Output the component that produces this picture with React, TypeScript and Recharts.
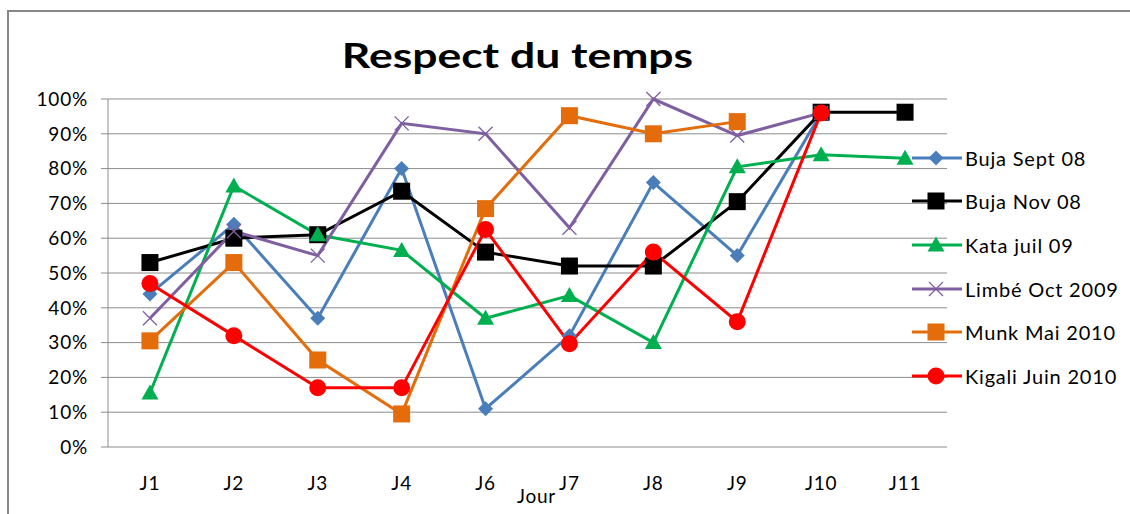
import React from 'react';
import { LineChart, Line, XAxis, YAxis, CartesianGrid, Legend } from 'recharts';

const categories = ['J1', 'J2', 'J3', 'J4', 'J6', 'J7', 'J8', 'J9', 'J10', 'J11'];
const bujaSept08 = [0.44, 0.64, 0.37, 0.8, 0.11, 0.32, 0.76, 0.55, 0.96, null];
const bujaNov08 = [0.53, 0.6, 0.61, 0.735, 0.56, 0.52, 0.52, 0.705, 0.962, 0.962];
const kataJuil09 = [0.155, 0.75, 0.61, 0.565, 0.37, 0.435, 0.3, 0.805, 0.84, 0.83];
const limbeOct2009 = [0.37, 0.62, 0.55, 0.93, 0.9, 0.63, 1.0, 0.895, 0.96, null];
const munkMai2010 = [0.305, 0.53, 0.25, 0.095, 0.685, 0.952, 0.9, 0.935, null, null];
const kigaliJuin2010 = [0.47, 0.32, 0.17, 0.17, 0.625, 0.297, 0.56, 0.36, 0.96, null];
const yTicks = [0, 0.1, 0.2, 0.3, 0.4, 0.5, 0.6, 0.7, 0.8, 0.9, 1.0];
const boundaryTicks = [0, 1, 2, 3, 4, 5, 6, 7, 8, 9, 10];

type Shape = 'diamond' | 'square' | 'triangle' | 'x' | 'circle';
interface Series { key: string; name: string; color: string; shape: Shape; values: (number | null)[] }

const series: Series[] = [
  { key: 's1', name: 'Buja Sept 08', color: '#4A7EBB', shape: 'diamond', values: bujaSept08 },
  { key: 's2', name: 'Buja Nov 08', color: '#000000', shape: 'square', values: bujaNov08 },
  { key: 's3', name: 'Kata juil 09', color: '#00B050', shape: 'triangle', values: kataJuil09 },
  { key: 's4', name: 'Limbé Oct 2009', color: '#7F5FA0', shape: 'x', values: limbeOct2009 },
  { key: 's5', name: 'Munk Mai 2010', color: '#E46C0A', shape: 'square', values: munkMai2010 },
  { key: 's6', name: 'Kigali Juin 2010', color: '#FF0000', shape: 'circle', values: kigaliJuin2010 },
];

const data = categories.map((cat, i) => {
  const row: Record<string, any> = { cat };
  series.forEach((s) => { row[s.key] = s.values[i]; });
  return row;
});

const FONT = 'Lato, "Liberation Sans", sans-serif';
const GRID = '#8c8c8c';

function Marker({ cx, cy, shape, color }: { cx?: number; cy?: number; shape: Shape; color: string }) {
  if (cx == null || cy == null || isNaN(cx) || isNaN(cy)) return <g />;
  switch (shape) {
    case 'diamond':
      return <path d={`M${cx},${cy - 7.5}L${cx + 7.5},${cy}L${cx},${cy + 7.5}L${cx - 7.5},${cy}Z`} fill={color} />;
    case 'square':
      return <rect x={cx - 8.5} y={cy - 8.5} width={17} height={17} fill={color} />;
    case 'triangle':
      return <path d={`M${cx},${cy - 8.5}L${cx + 8.5},${cy + 6.5}L${cx - 8.5},${cy + 6.5}Z`} fill={color} />;
    case 'x':
      return (
        <g stroke={color} strokeWidth={1.3}>
          <line x1={cx - 7} y1={cy - 7} x2={cx + 7} y2={cy + 7} />
          <line x1={cx - 7} y1={cy + 7} x2={cx + 7} y2={cy - 7} />
        </g>
      );
    case 'circle':
    default:
      return <circle cx={cx} cy={cy} r={8.5} fill={color} />;
  }
}

function LegendContent() {
  return (
    <div style={{ fontFamily: FONT, fontSize: 20, letterSpacing: 0.8, color: '#000' }}>
      {series.map((s) => (
        <div key={s.key} style={{ height: 43.6, display: 'flex', alignItems: 'center' }}>
          <svg width={52} height={22} style={{ display: 'block' }}>
            <line x1={0} y1={11} x2={50} y2={11} stroke={s.color} strokeWidth={3} />
            <Marker cx={24} cy={11} shape={s.shape} color={s.color} />
          </svg>
          <span style={{ marginLeft: 1, whiteSpace: 'nowrap' }}>{s.name}</span>
        </div>
      ))}
    </div>
  );
}

const tickStyle = { fontFamily: FONT, fontSize: 19, fill: '#000', letterSpacing: 0.8 };

export default function App() {
  return (
    <div style={{ position: 'absolute', left: 0, top: 0, width: 1130, height: 514, overflow: 'hidden', background: '#fff' }}>
      <div style={{ position: 'absolute', left: 7, top: 10, width: 1200, height: 600, border: '2px solid #878787' }} />
      <div style={{ position: 'absolute', left: 0, width: 1035, top: 32, textAlign: 'center', fontFamily: FONT, fontWeight: 700, fontSize: 35, lineHeight: '44px', color: '#000', transform: 'scaleX(1.27)', transformOrigin: '517.5px 0' }}>
        Respect du temps
      </div>
      <div style={{ position: 'absolute', left: 0, top: 0 }}>
        <LineChart width={1130} height={514} data={data} margin={{ top: 99, right: 183, bottom: 0, left: 0 }}>
          <CartesianGrid xAxisId="cat" yAxisId="y" vertical={false} stroke={GRID} strokeWidth={1} />
          <XAxis
            xAxisId="grid"
            type="number"
            domain={[0, 10]}
            ticks={boundaryTicks}
            allowDataOverflow
            tick={false}
            tickSize={7}
            height={0}
            axisLine={{ stroke: GRID }}
            tickLine={{ stroke: GRID }}
          />
          <XAxis
            xAxisId="cat"
            dataKey="cat"
            scale="band"
            axisLine={false}
            tickLine={false}
            tickSize={0}
            tickMargin={30}
            height={67}
            interval={0}
            tick={tickStyle}
            label={{ value: 'Jour', position: 'insideBottom', offset: 11, dx: 9, style: { fontFamily: FONT, fontSize: 19, fill: '#000', letterSpacing: 0.8 } }}
          />
          <YAxis
            yAxisId="y"
            domain={[0, 1]}
            ticks={yTicks}
            width={108}
            tickSize={7}
            tickMargin={13}
            axisLine={{ stroke: GRID }}
            tickLine={{ stroke: GRID }}
            tickFormatter={(v: number) => `${Math.round(v * 100)}%`}
            tick={tickStyle}
          />
          <Legend
            layout="vertical"
            align="center"
            verticalAlign="middle"
            wrapperStyle={{ left: 912, top: 136, width: 220 }}
            content={() => <LegendContent />}
          />
          {series.map((s) => (
            <Line
              key={s.key}
              xAxisId="cat"
              yAxisId="y"
              dataKey={s.key}
              name={s.name}
              stroke={s.color}
              strokeWidth={3}
              isAnimationActive={false}
              connectNulls={false}
              dot={(p: any) => <Marker key={`${s.key}-${p.index}`} cx={p.cx} cy={p.cy} shape={s.shape} color={s.color} />}
              activeDot={false}
            />
          ))}
        </LineChart>
      </div>
    </div>
  );
}
